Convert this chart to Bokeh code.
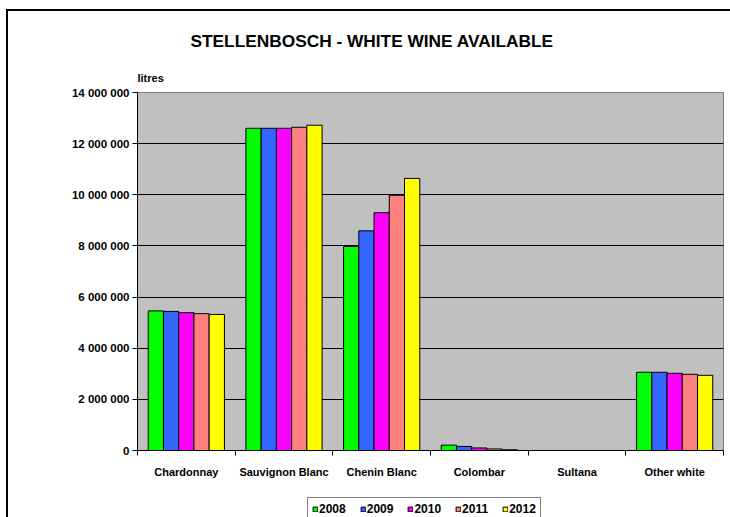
from bokeh.plotting import figure
from bokeh.layouts import column
from bokeh.models import ColumnDataSource, FixedTicker, LinearAxis, Legend, LegendItem, Range1d, Title
from bokeh.transform import dodge
from bokeh.embed import file_html
from bokeh.resources import INLINE

categories = ["Chardonnay", "Sauvignon Blanc", "Chenin Blanc", "Colombar", "Sultana", "Other white"]
years = ["2008", "2009", "2010", "2011", "2012"]
v2008 = [5460000, 12600000, 7980000, 210000, 0, 3060000]
v2009 = [5440000, 12600000, 8590000, 160000, 0, 3060000]
v2010 = [5390000, 12600000, 9300000, 100000, 0, 3020000]
v2011 = [5350000, 12640000, 9980000, 60000, 0, 2980000]
v2012 = [5320000, 12720000, 10640000, 30000, 0, 2940000]
series = [v2008, v2009, v2010, v2011, v2012]
colors = ["#00FF00", "#3366FF", "#FF00FF", "#FF8080", "#FFFF00"]
y_ticks = [0, 2000000, 4000000, 6000000, 8000000, 10000000, 12000000, 14000000]
y_tick_labels = ["0", "2 000 000", "4 000 000", "6 000 000", "8 000 000", "10 000 000", "12 000 000", "14 000 000"]
title_text = "STELLENBOSCH - WHITE WINE AVAILABLE"
unit_text = "litres"

FONT = "Liberation Sans"

n = len(categories)
centers = [i + 0.5 for i in range(n)]
data = {"center": centers}
for y, s in zip(years, series):
    data["y" + y] = s
source = ColumnDataSource(data)

p = figure(width=730, height=488, x_range=Range1d(0, n), y_range=Range1d(0, y_ticks[-1]),
           output_backend="svg", toolbar_location=None, x_axis_location=None,
           min_border_left=137, min_border_right=7, min_border_top=92, min_border_bottom=38,
           background_fill_color="#C0C0C0", border_fill_alpha=0,
           outline_line_color="#808080", outline_line_width=1)

p.title.text = title_text
p.title.text_font = FONT
p.title.text_font_style = "bold"
p.title.text_font_size = "17.3px"
p.title.text_color = "black"
p.title.align = "left"
p.title.offset = 53
p.title.standoff = 20

p.add_layout(Title(text=unit_text, align="left", text_font=FONT, text_font_style="bold",
                   text_font_size="11px", text_color="black", standoff=18), "above")

p.xgrid.visible = False
p.ygrid.ticker = FixedTicker(ticks=y_ticks)
p.ygrid.grid_line_color = "black"
p.ygrid.grid_line_width = 1

bw = 0.156
offsets = [-2 * bw, -bw, 0, bw, 2 * bw]
for y, c, off in zip(years, colors, offsets):
    p.vbar(x=dodge("center", off, range=p.x_range), top="y" + y, width=bw, bottom=0,
           source=source, fill_color=c, line_color="black", line_width=1)

yax = p.yaxis[0]
yax.ticker = FixedTicker(ticks=y_ticks)
yax.major_label_overrides = dict(zip(y_ticks, y_tick_labels))
yax.major_label_text_font = FONT
yax.major_label_text_font_style = "bold"
yax.major_label_text_font_size = "11.5px"
yax.major_label_text_color = "black"
yax.major_tick_in = 0
yax.major_tick_out = 5
yax.major_label_standoff = 3
yax.minor_tick_line_color = None
yax.axis_line_color = "black"
yax.major_tick_line_color = "black"

ax1 = LinearAxis(ticker=FixedTicker(ticks=list(range(n + 1))), major_label_text_font_size="0px",
                 major_label_text_color=None, major_label_standoff=0, major_tick_in=0, major_tick_out=5,
                 minor_tick_line_color=None, axis_line_color="black", major_tick_line_color="black")
p.add_layout(ax1, "below")

ax2 = LinearAxis(ticker=FixedTicker(ticks=centers), major_label_overrides=dict(zip(centers, categories)),
                 axis_line_color=None, major_tick_line_color=None, minor_tick_line_color=None,
                 major_label_standoff=4, major_label_text_font=FONT, major_label_text_font_style="bold",
                 major_label_text_font_size="11px", major_label_text_color="black")
p.add_layout(ax2, "below")

# legend strip below the chart (swatch renderers sit outside the strip's visible range)
lp = figure(width=730, height=29, x_range=Range1d(0, 1), y_range=Range1d(0, 1),
            output_backend="svg", toolbar_location=None, x_axis_location=None, y_axis_location=None,
            min_border=0, min_border_left=0, min_border_right=0, min_border_top=0, min_border_bottom=0,
            outline_line_color=None, background_fill_alpha=0, border_fill_alpha=0)
lp.grid.visible = False
swatches = []
for y, c in zip(years, colors):
    r = lp.vbar(x=[-5], top=[-5], bottom=[-6], width=0.1, fill_color=c, line_color="black", line_width=1)
    swatches.append(r)
legend = Legend(items=[LegendItem(label=y, renderers=[r]) for y, r in zip(years, swatches)],
                orientation="horizontal", location=(170, -4),
                border_line_color="black", border_line_width=1,
                background_fill_color="white", background_fill_alpha=1,
                label_text_font=FONT, label_text_font_style="bold", label_text_font_size="12px",
                label_text_color="black",
                glyph_width=6, glyph_height=6, label_height=12, label_standoff=1,
                spacing=14, padding=4, margin=0)
lp.add_layout(legend)

page = column(p, lp, spacing=0)
page.styles = {"background": "linear-gradient(#000,#000) 6px 9px / 2px 100% no-repeat, "
                             "linear-gradient(#000,#000) 6px 9px / 100% 2px no-repeat, white"}

open("out.html", "w").write(file_html(page, INLINE))
